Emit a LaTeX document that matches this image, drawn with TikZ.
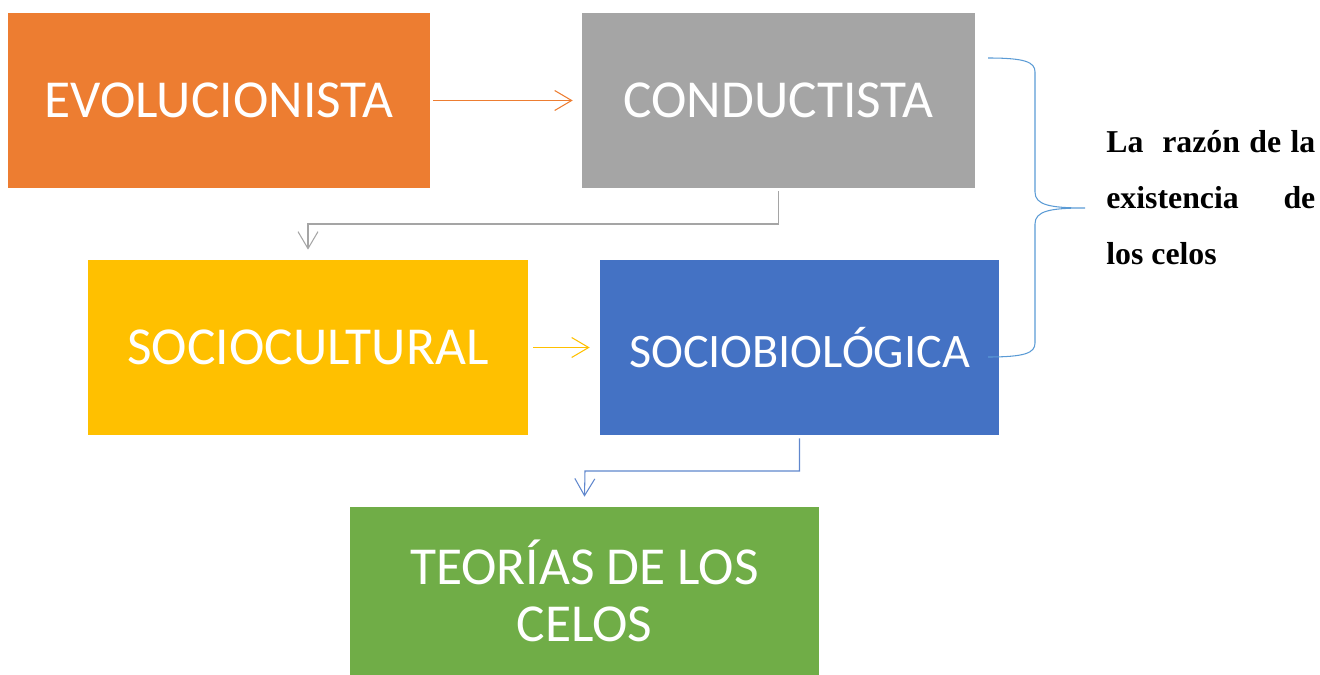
\documentclass[tikz,border=0pt]{standalone}
\usepackage{fontspec}
\setmainfont{Liberation Serif}
\newfontfamily\cajafont{Carlito}
\usetikzlibrary{arrows.meta}
\definecolor{naranja}{HTML}{ED7D31}
\definecolor{gris}{HTML}{A5A5A5}
\definecolor{oro}{HTML}{FFC000}
\definecolor{azul}{HTML}{4472C4}
\definecolor{verde}{HTML}{70AD47}
\definecolor{celeste}{HTML}{5B9BD5}
\tikzset{
  caja/.style={rectangle,inner sep=0pt,text=white,align=center,font=\cajafont\fontsize{30.4}{32.4}\selectfont},
  flecha/.style={line width=0.6pt,-{Straight Barb[length=0.34cm,width=0.4cm]}}
}
\begin{document}
\begin{tikzpicture}[x=0.02cm,y=-0.02cm]
\useasboundingbox (0,0) rectangle (1320,675);

\node[caja,fill=naranja,minimum width=8.44cm,minimum height=3.5cm] (evo) at (219,100.5) {EVOLUCIONISTA};
\node[caja,fill=gris,minimum width=7.86cm,minimum height=3.5cm] (cond) at (778.5,100.5) {CONDUCTISTA};
\node[caja,fill=oro,minimum width=8.8cm,minimum height=3.5cm] (soc) at (308,347.5) {SOCIOCULTURAL};
\node[caja,fill=azul,minimum width=7.98cm,minimum height=3.5cm,font=\cajafont\fontsize{27.4}{32.4}\selectfont] (bio) at (799.5,347.5) {SOCIOBIOLÓGICA};
\node[caja,fill=verde,minimum width=9.38cm,minimum height=3.36cm] (teo) at (584.5,591) {TEORÍAS DE LOS\\CELOS};

\draw[flecha,naranja] ([xshift=0.06cm]evo.east) -- ([xshift=-0.18cm]cond.west);
\draw[flecha,gris] ([yshift=-0.06cm]cond.south) |- (308,224) -- ([yshift=0.2cm]soc.north);
\draw[flecha,oro] ([xshift=0.1cm]soc.east) -- ([xshift=-0.2cm]bio.west);
\draw[flecha,azul!85] ([yshift=-0.06cm]bio.south) |- (585,471) -- ([yshift=0.2cm]teo.north);

\coordinate (b1) at (988,58);
\coordinate (b2) at (988,357);
\coordinate (punta) at (1085,208);
\draw[celeste,line width=0.6pt] (b1) .. controls (1025,58) and (1035,62) .. (1035,72)
  -- (1035,192) .. controls (1035,205) and (1050,208) .. (punta)
  .. controls (1050,208) and (1035,211) .. (1035,224)
  -- (1035,343) .. controls (1035,353) and (1025,357) .. (b2);

\node[anchor=north west,inner sep=0pt,align=left,font=\fontsize{18.1}{31.9}\selectfont\bfseries] (razon) at (1106,130)
  {\makebox[4.18cm][s]{La\ \ razón de la}\\ \makebox[4.18cm][s]{existencia de}\\ los celos};
\end{tikzpicture}
\end{document}
